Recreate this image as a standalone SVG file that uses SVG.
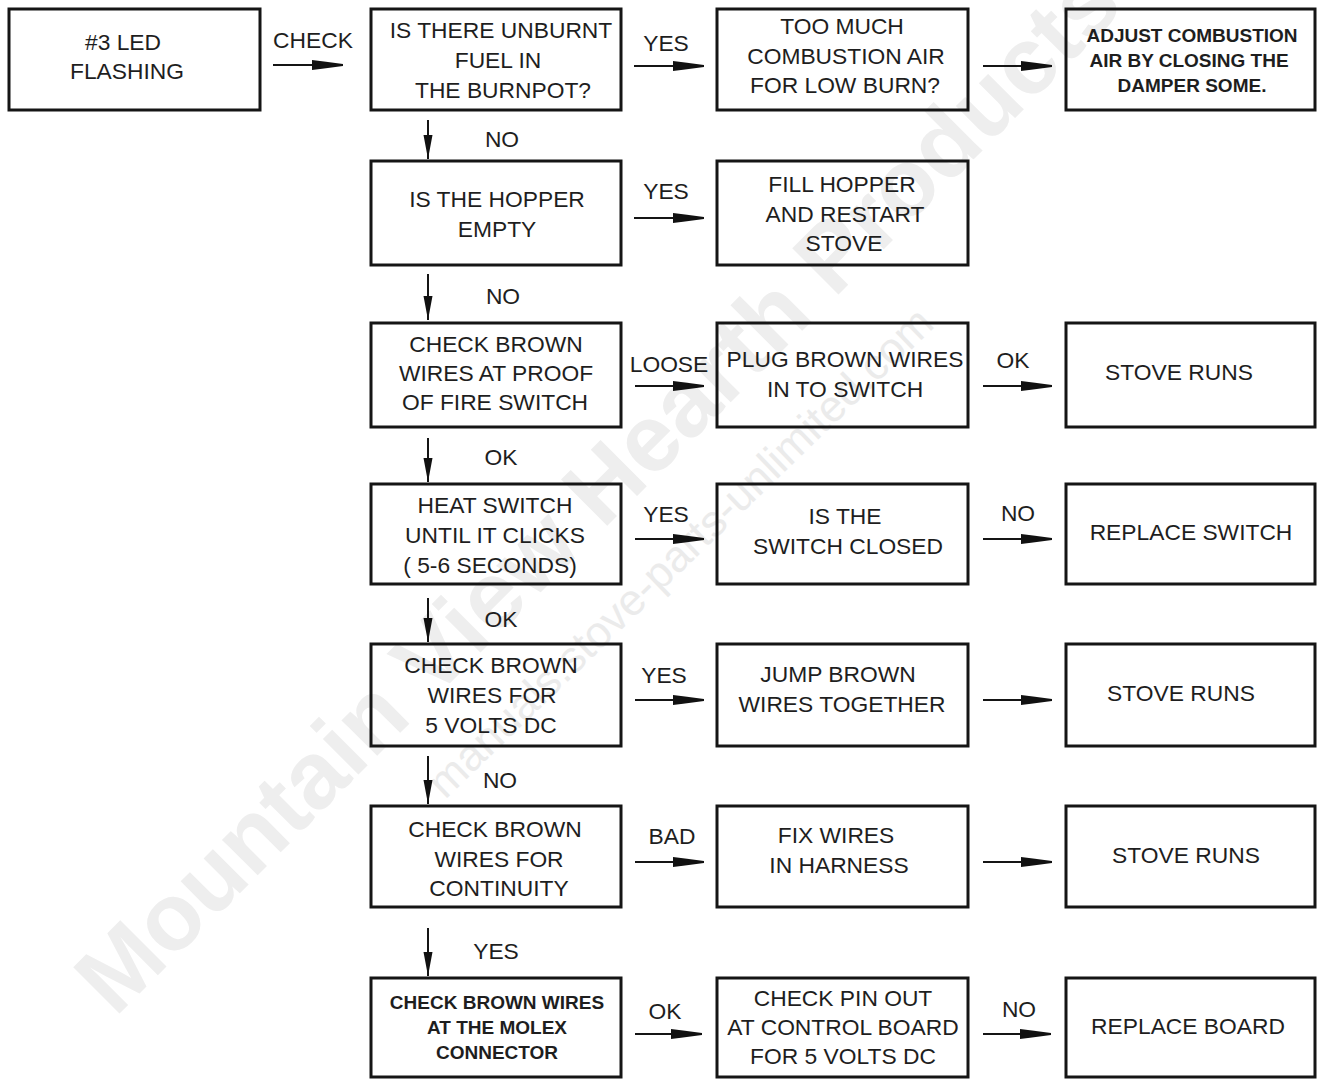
<svg xmlns="http://www.w3.org/2000/svg" width="1317" height="1079" viewBox="0 0 1317 1079">
<style>
  .box { fill: none; stroke: #151515; stroke-width: 3; }
  .t { font-family: "Liberation Sans", Arial, sans-serif; font-size: 22.8px; fill: #1e1e1e; text-anchor: middle; }
  .tb { font-family: "Liberation Sans", Arial, sans-serif; font-size: 19px; font-weight: bold; fill: #1e1e1e; text-anchor: middle; }
  .lbl { font-family: "Liberation Sans", Arial, sans-serif; font-size: 22.8px; fill: #1e1e1e; text-anchor: middle; }
  .wire { stroke: #151515; stroke-width: 2; fill: none; }
  .h { marker-end: url(#ah); }
  .v { marker-end: url(#av); }
  .wm1 { font-family: "Liberation Sans", Arial, sans-serif; font-size: 95px; font-weight: bold; fill: #eeeeee; }
  .wm2 { font-family: "Liberation Sans", Arial, sans-serif; font-size: 44px; fill: #ebebeb; }
</style>
<defs>
  <marker id="ah" markerUnits="userSpaceOnUse" markerWidth="34" markerHeight="14" viewBox="-32 -7 34 14" refX="0" refY="0" orient="auto">
    <path d="M-31,-5 L-19,-3.5 L0,-1 L0,1 L-19,3.5 L-31,5 Z" fill="#111"/>
  </marker>
  <marker id="av" markerUnits="userSpaceOnUse" markerWidth="28" markerHeight="12" viewBox="-26 -6 28 12" refX="0" refY="0" orient="auto">
    <path d="M-24,-4.5 L0,0 L-24,4.5 Z" fill="#111"/>
  </marker>
</defs>
<rect x="0" y="0" width="1317" height="1079" fill="#ffffff"/>

<g id="watermark">
  <text class="wm1" x="115" y="1018" transform="rotate(-45 115 1018)">Mountain View Hearth Products</text>
  <text class="wm2" x="445" y="800" transform="rotate(-44 445 800)">manuals.stove-parts-unlimited.com</text>
</g>

<g id="connectors">
  <line class="wire h" x1="273" y1="65" x2="343" y2="65"/>
  <line class="wire h" x1="634" y1="66" x2="704" y2="66"/>
  <line class="wire h" x1="983" y1="66" x2="1052" y2="66"/>
  <line class="wire h" x1="634" y1="218" x2="704" y2="218"/>
  <line class="wire h" x1="635" y1="386" x2="704" y2="386"/>
  <line class="wire h" x1="983" y1="386" x2="1052" y2="386"/>
  <line class="wire h" x1="635" y1="539" x2="704" y2="539"/>
  <line class="wire h" x1="983" y1="539" x2="1052" y2="539"/>
  <line class="wire h" x1="635" y1="700" x2="704" y2="700"/>
  <line class="wire h" x1="983" y1="700" x2="1052" y2="700"/>
  <line class="wire h" x1="635" y1="862" x2="704" y2="862"/>
  <line class="wire h" x1="983" y1="862" x2="1052" y2="862"/>
  <line class="wire h" x1="635" y1="1034" x2="702" y2="1034"/>
  <line class="wire h" x1="983" y1="1034" x2="1051" y2="1034"/>

  <line class="wire v" x1="428" y1="120" x2="428" y2="159"/>
  <line class="wire v" x1="428" y1="274" x2="428" y2="320"/>
  <line class="wire v" x1="428" y1="438" x2="428" y2="482"/>
  <line class="wire v" x1="428" y1="598" x2="428" y2="642"/>
  <line class="wire v" x1="428" y1="756" x2="428" y2="804"/>
  <line class="wire v" x1="428" y1="928" x2="428" y2="976"/>

  <text class="lbl" x="313" y="48">CHECK</text>
  <text class="lbl" x="666" y="51">YES</text>
  <text class="lbl" x="502" y="147">NO</text>
  <text class="lbl" x="666" y="199">YES</text>
  <text class="lbl" x="503" y="304">NO</text>
  <text class="lbl" x="669" y="372">LOOSE</text>
  <text class="lbl" x="1013" y="368">OK</text>
  <text class="lbl" x="501" y="465">OK</text>
  <text class="lbl" x="666" y="522">YES</text>
  <text class="lbl" x="1018" y="521">NO</text>
  <text class="lbl" x="501" y="627">OK</text>
  <text class="lbl" x="664" y="683">YES</text>
  <text class="lbl" x="500" y="788">NO</text>
  <text class="lbl" x="672" y="844">BAD</text>
  <text class="lbl" x="496" y="959">YES</text>
  <text class="lbl" x="665" y="1019">OK</text>
  <text class="lbl" x="1019" y="1017">NO</text>
</g>

<g id="n-led">
  <rect class="box" x="9" y="9" width="251" height="101"/>
  <text class="t" x="123" y="50">#3 LED</text>
  <text class="t" x="127" y="79">FLASHING</text>
</g>
<g id="n-unburnt">
  <rect class="box" x="371" y="9" width="250" height="101"/>
  <text class="t" x="501" y="38">IS THERE UNBURNT</text>
  <text class="t" x="498" y="68">FUEL IN</text>
  <text class="t" x="503" y="98">THE BURNPOT?</text>
</g>
<g id="n-toomuch">
  <rect class="box" x="717" y="9" width="251" height="101"/>
  <text class="t" x="842" y="34">TOO MUCH</text>
  <text class="t" x="846" y="64">COMBUSTION AIR</text>
  <text class="t" x="845" y="93">FOR LOW BURN?</text>
</g>
<g id="n-adjust">
  <rect class="box" x="1066" y="9" width="249" height="101"/>
  <text class="tb" x="1192" y="42">ADJUST COMBUSTION</text>
  <text class="tb" x="1189" y="67">AIR BY CLOSING THE</text>
  <text class="tb" x="1192" y="92">DAMPER SOME.</text>
</g>

<g id="n-hopper">
  <rect class="box" x="371" y="161" width="250" height="104"/>
  <text class="t" x="497" y="207">IS THE HOPPER</text>
  <text class="t" x="497" y="237">EMPTY</text>
</g>
<g id="n-fill">
  <rect class="box" x="717" y="161" width="251" height="104"/>
  <text class="t" x="842" y="192">FILL HOPPER</text>
  <text class="t" x="845" y="222">AND RESTART</text>
  <text class="t" x="844" y="251">STOVE</text>
</g>

<g id="n-check-pof">
  <rect class="box" x="371" y="323" width="250" height="104"/>
  <text class="t" x="496" y="352">CHECK BROWN</text>
  <text class="t" x="496" y="381">WIRES AT PROOF</text>
  <text class="t" x="495" y="410">OF FIRE SWITCH</text>
</g>
<g id="n-plug">
  <rect class="box" x="717" y="323" width="251" height="104"/>
  <text class="t" x="845" y="367">PLUG BROWN WIRES</text>
  <text class="t" x="845" y="397">IN TO SWITCH</text>
</g>
<g id="n-runs1">
  <rect class="box" x="1066" y="323" width="249" height="104"/>
  <text class="t" x="1179" y="380">STOVE RUNS</text>
</g>

<g id="n-heat">
  <rect class="box" x="371" y="484" width="250" height="100"/>
  <text class="t" x="495" y="513">HEAT SWITCH</text>
  <text class="t" x="495" y="543">UNTIL IT CLICKS</text>
  <text class="t" x="490" y="573">( 5-6 SECONDS)</text>
</g>
<g id="n-closed">
  <rect class="box" x="717" y="484" width="251" height="100"/>
  <text class="t" x="845" y="524">IS THE</text>
  <text class="t" x="848" y="554">SWITCH CLOSED</text>
</g>
<g id="n-replace-switch">
  <rect class="box" x="1066" y="484" width="249" height="100"/>
  <text class="t" x="1191" y="540">REPLACE SWITCH</text>
</g>

<g id="n-5v">
  <rect class="box" x="371" y="644" width="250" height="102"/>
  <text class="t" x="491" y="673">CHECK BROWN</text>
  <text class="t" x="492" y="703">WIRES FOR</text>
  <text class="t" x="491" y="733">5 VOLTS DC</text>
</g>
<g id="n-jump">
  <rect class="box" x="717" y="644" width="251" height="102"/>
  <text class="t" x="838" y="682">JUMP BROWN</text>
  <text class="t" x="842" y="712">WIRES TOGETHER</text>
</g>
<g id="n-runs2">
  <rect class="box" x="1066" y="644" width="249" height="102"/>
  <text class="t" x="1181" y="701">STOVE RUNS</text>
</g>

<g id="n-continuity">
  <rect class="box" x="371" y="806" width="250" height="101"/>
  <text class="t" x="495" y="837">CHECK BROWN</text>
  <text class="t" x="499" y="867">WIRES FOR</text>
  <text class="t" x="499" y="896">CONTINUITY</text>
</g>
<g id="n-fix">
  <rect class="box" x="717" y="806" width="251" height="101"/>
  <text class="t" x="836" y="843">FIX WIRES</text>
  <text class="t" x="839" y="873">IN HARNESS</text>
</g>
<g id="n-runs3">
  <rect class="box" x="1066" y="806" width="249" height="101"/>
  <text class="t" x="1186" y="863">STOVE RUNS</text>
</g>

<g id="n-molex">
  <rect class="box" x="371" y="978" width="250" height="99"/>
  <text class="tb" x="497" y="1009">CHECK BROWN WIRES</text>
  <text class="tb" x="497" y="1034">AT THE MOLEX</text>
  <text class="tb" x="497" y="1059">CONNECTOR</text>
</g>
<g id="n-pinout">
  <rect class="box" x="717" y="978" width="251" height="99"/>
  <text class="t" x="843" y="1006">CHECK PIN OUT</text>
  <text class="t" x="843" y="1035">AT CONTROL BOARD</text>
  <text class="t" x="843" y="1064">FOR 5 VOLTS DC</text>
</g>
<g id="n-replace-board">
  <rect class="box" x="1066" y="978" width="249" height="99"/>
  <text class="t" x="1188" y="1034">REPLACE BOARD</text>
</g>
</svg>
